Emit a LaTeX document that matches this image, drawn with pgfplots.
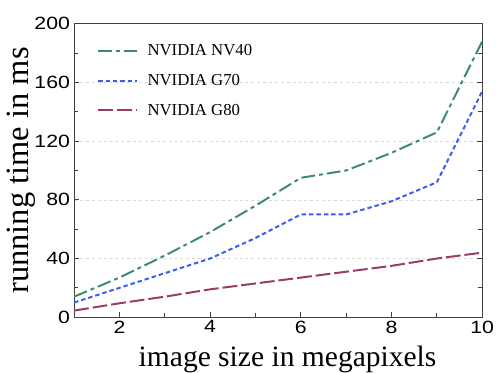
\documentclass[border=0pt]{standalone}
\usepackage{fontspec}
\setmainfont{Liberation Serif}
\setsansfont{Liberation Sans}
\usepackage{pgfplots}
\pgfplotsset{compat=1.18}
\definecolor{cNV}{HTML}{3F8878}
\definecolor{cGS}{HTML}{3A5CF2}
\definecolor{cGE}{HTML}{9A3A6A}
\begin{document}
\begin{tikzpicture}
\begin{axis}[
  name=ax,
  scale only axis, width=413bp, height=297bp,
  xmin=1, xmax=10, ymin=0, ymax=200,
  xtick={2,4,6,8,10}, minor xtick={3,5,7,9},
  ytick={0,40,...,200}, minor ytick={20,60,...,180},
  tick align=inside, xtick pos=left, ytick pos=both,
  major tick length=5bp, minor tick length=4bp,
  axis line style={draw=black!75, line width=1.2bp},
  every tick/.style={black!75, line width=1bp},
  ymajorgrids, major grid style={dashed, gray!30, line width=0.6bp},
  tick label style={font=\sffamily\fontsize{18}{18}\selectfont, xscale=1.2},
  /pgf/number format/assume math mode=true,
  xlabel={image size in megapixels},
  ylabel={running time in ms},
  xlabel style={font=\fontsize{30}{30}\selectfont, at={(axis description cs:0.523,-0.189)}, anchor=south, inner sep=0pt},
  ylabel style={font=\fontsize{33}{33}\selectfont, at={(axis description cs:-0.094,0.5)}, anchor=south, inner sep=0pt},
  legend style={draw=none, fill=none, at={(0.056,0.937)}, anchor=north west, inner sep=0pt, row sep=13.5bp, font=\fontsize{17}{17}\selectfont,
    /tikz/every odd column/.append style={column sep=8bp}},
  legend cell align=left,
  legend image code/.code={\draw[#1] (0bp,0bp) -- (39bp,0bp);},
]
\addplot[cNV, line width=2bp, dash pattern=on 14bp off 4bp on 4bp off 4bp] coordinates {
 (1,14)(2,27)(3,42)(4,58)(5,76)(6,95)(7,100)(8,112)(9,126)(10,188)};
\addlegendentry{NVIDIA NV40}
\addplot[cGS, line width=2bp, dash pattern=on 4.5bp off 3bp] coordinates {
 (1,10)(2,20)(3,30)(4,40)(5,54)(6,70)(7,70)(8,79)(9,92)(10,154)};
\addlegendentry{NVIDIA G70}
\addplot[cGE, line width=2bp, dash pattern=on 15bp off 4bp] coordinates {
 (1,4.5)(2,9.5)(3,14)(4,19)(5,23)(6,27)(7,31)(8,35)(9,40)(10,44)};
\addlegendentry{NVIDIA G80}
\end{axis}
\path ([xshift=-75bp,yshift=-56bp]ax.south west) rectangle ([xshift=10bp,yshift=24bp]ax.north east);
\end{tikzpicture}
\end{document}
